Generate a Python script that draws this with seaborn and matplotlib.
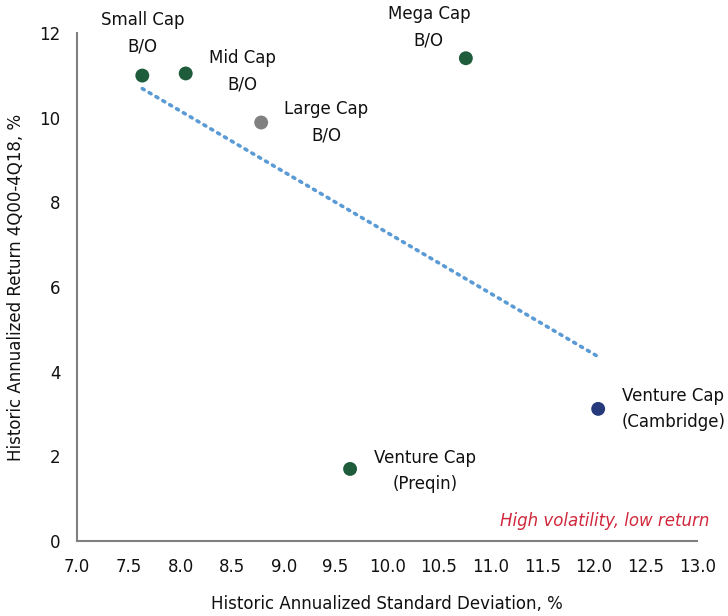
import matplotlib
matplotlib.use("Agg")
import matplotlib.pyplot as plt
import seaborn as sns
import pandas as pd
import numpy as np

# Buyout and venture segments: risk vs. return, 4Q00-4Q18
names = ["Small Cap\nB/O", "Mid Cap\nB/O", "Large Cap\nB/O", "Mega Cap\nB/O",
         "Venture Cap\n(Preqin)", "Venture Cap\n(Cambridge)"]
std_dev = [7.63, 8.05, 8.78, 10.76, 9.64, 12.04]
returns = [11.00, 11.05, 9.89, 11.41, 1.70, 3.12]
colors = ["#1f5c3b", "#1f5c3b", "#808080", "#1f5c3b", "#1f5c3b", "#26397a"]

x_ticks = np.arange(7.0, 13.01, 0.5)
y_ticks = [0, 2, 4, 6, 8, 10, 12]

df = pd.DataFrame({"name": names, "std": std_dev, "ret": returns})

sns.set_style("white")
plt.rcParams["font.family"] = ["DejaVu Sans"]
plt.rcParams["font.size"] = 12

fig, ax = plt.subplots(figsize=(7.28, 6.16), dpi=100)
fig.subplots_adjust(left=0.106, right=0.958, bottom=0.122, top=0.946)

# linear trend across all segments
sns.regplot(data=df, x="std", y="ret", ax=ax, scatter=False, ci=None,
            line_kws=dict(color="#5b9bd5", lw=2.6, linestyle=(0, (0.6, 1.6)),
                          dash_capstyle="round"))

sns.scatterplot(data=df, x="std", y="ret", hue="name", palette=colors,
                s=100, edgecolor="none", legend=False, ax=ax, zorder=3)

# point labels: (dx, dy) in pixels and alignment
label_pos = [
    ((0, 20), "center", "bottom"),
    ((23, 2), "left", "center"),
    ((23, 0), "left", "center"),
    ((-37, 9), "center", "bottom"),
    ((24, -2), "left", "center"),
    ((23, 0), "left", "center"),
]
for (n, x, y), (off, ha, va) in zip(zip(names, std_dev, returns), label_pos):
    ax.annotate(n, (x, y), xytext=off, textcoords="offset pixels",
                ha=ha, va=va, multialignment="center", fontsize=12,
                linespacing=1.6, color="#111111", annotation_clip=False)

ax.text(13.12, 0.46, "High volatility, low return", ha="right", va="center",
        fontsize=12, style="italic", color="#d0283c")

ax.set_xlim(7.0, 13.0)
ax.set_ylim(0, 12)
ax.set_xticks(x_ticks)
ax.set_xticklabels([f"{v:.1f}" for v in x_ticks])
ax.set_yticks(y_ticks)

for side in ["top", "right"]:
    ax.spines[side].set_visible(False)
for side in ["left", "bottom"]:
    ax.spines[side].set_color("#808080")
    ax.spines[side].set_linewidth(1.5)

ax.tick_params(axis="both", which="major", direction="out", length=6, width=1.5,
               color="#808080", labelsize=12, labelcolor="#111111", pad=6)

ax.set_xlabel("Historic Annualized Standard Deviation, %", fontsize=12,
              color="#111111", labelpad=14)
ax.set_ylabel("Historic Annualized Return 4Q00-4Q18, %", fontsize=12,
              color="#111111", labelpad=10)

fig.savefig("out.png", dpi=100)
